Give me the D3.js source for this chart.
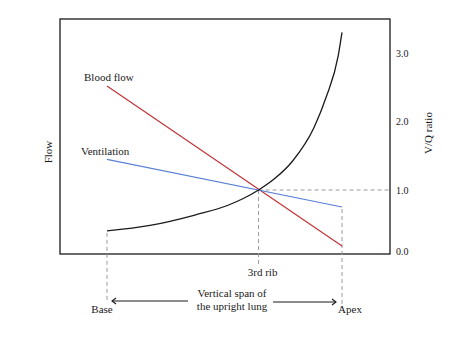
<!DOCTYPE html>
<html>
<head>
<meta charset="utf-8">
<script src="https://cdn.jsdelivr.net/npm/d3@7"></script>
<style>
  html, body { margin: 0; padding: 0; background: #fff; }
  svg text { font-family: "Liberation Serif", "DejaVu Serif", serif; fill: #1a1a1a; }
</style>
</head>
<body>
<svg id="chart" width="474" height="347"></svg>
<script>
// Position along the upright lung: 0 = base, 1 = apex
const landmarks = ["Base", "3rd rib", "Apex"];
const landmarkPos = [0, 0.645, 1];

// Flow (arbitrary units) at base and apex
const linePos = [0, 1];
const bloodFlow = [71.5, 3.4];
const ventilation = [40.3, 20.0];

// Ventilation / perfusion ratio along the lung
const vqPos = [0, 0.183, 0.374, 0.515, 0.58, 0.645, 0.715, 0.789, 0.882, 0.932, 0.984, 1.0];
const vqRatio = [0.33, 0.42, 0.59, 0.75, 0.86, 1.0, 1.17, 1.42, 1.92, 2.35, 2.96, 3.30];

const vqTicks = [0, 1, 2, 3];

const svg = d3.select("#chart");
const frame = { left: 60, right: 390, top: 19, bottom: 254 };

const x = d3.scaleLinear().domain([0, 1]).range([107, 342]);
const yFlow = d3.scaleLinear().domain([0, 100]).range([frame.bottom, frame.top]);
const yVQ = d3.scaleLinear().domain([0, 1, 3]).range([251, 190, 53]);

const dash = "4,3";
const grey = "#9a9a9a";

// Frame
svg.append("rect")
  .attr("x", frame.left).attr("y", frame.top)
  .attr("width", frame.right - frame.left).attr("height", frame.bottom - frame.top)
  .attr("fill", "none").attr("stroke", "#1a1a1a").attr("stroke-width", 1.3);

// Guide lines
const g = svg.append("g").attr("stroke", grey).attr("stroke-width", 1)
  .attr("stroke-dasharray", dash).attr("fill", "none");
g.append("line")
  .attr("x1", x(landmarkPos[0])).attr("x2", x(landmarkPos[0]))
  .attr("y1", yVQ(vqRatio[0]) + 2).attr("y2", 301);
g.append("line")
  .attr("x1", x(landmarkPos[1])).attr("x2", x(landmarkPos[1]))
  .attr("y1", yVQ(1)).attr("y2", 265);
g.append("line")
  .attr("x1", x(landmarkPos[2])).attr("x2", x(landmarkPos[2]))
  .attr("y1", yFlow(ventilation[1]) + 2).attr("y2", 308);
g.append("line")
  .attr("x1", x(landmarkPos[1])).attr("x2", frame.right)
  .attr("y1", yVQ(1)).attr("y2", yVQ(1));

// Flow lines
const flowLine = d3.line().x((d, i) => x(linePos[i])).y(d => yFlow(d));
svg.append("path").datum(bloodFlow).attr("d", flowLine)
  .attr("fill", "none").attr("stroke", "#c4343a").attr("stroke-width", 1.2);
svg.append("path").datum(ventilation).attr("d", flowLine)
  .attr("fill", "none").attr("stroke", "#5b80d6").attr("stroke-width", 1.2);

// V/Q curve
const vqLine = d3.line().x((d, i) => x(vqPos[i])).y(d => yVQ(d)).curve(d3.curveMonotoneX);
svg.append("path").datum(vqRatio).attr("d", vqLine)
  .attr("fill", "none").attr("stroke", "#1a1a1a").attr("stroke-width", 1.3);

// Right axis (V/Q ratio)
const axisR = d3.axisRight(yVQ).tickValues(vqTicks).tickFormat(d3.format(".1f")).tickSize(0).tickPadding(6);
const ga = svg.append("g").attr("transform", `translate(${frame.right},0)`).call(axisR);
ga.select(".domain").remove();
ga.selectAll("text").style("font-family", '"Liberation Serif", serif').style("font-size", "10px").attr("fill", "#1a1a1a");

svg.append("text").attr("transform", "translate(432,133) rotate(-90)")
  .attr("text-anchor", "middle").style("font-size", "11px").text("V/Q ratio");
svg.append("text").attr("transform", "translate(52,152) rotate(-90)")
  .attr("text-anchor", "middle").style("font-size", "11px").text("Flow");

// Series labels
svg.append("text").attr("x", 84).attr("y", 81).style("font-size", "11px").text("Blood flow");
svg.append("text").attr("x", 81).attr("y", 155).style("font-size", "11px").text("Ventilation");

// Landmark labels
svg.append("text").attr("x", x(landmarkPos[1]) + 4).attr("y", 276)
  .attr("text-anchor", "middle").style("font-size", "11px").text(landmarks[1]);
svg.append("text").attr("x", x(landmarkPos[0]) - 5).attr("y", 313)
  .attr("text-anchor", "middle").style("font-size", "11px").text(landmarks[0]);
svg.append("text").attr("x", x(landmarkPos[2]) + 8).attr("y", 313)
  .attr("text-anchor", "middle").style("font-size", "11px").text(landmarks[2]);

// Span label with arrows
const span = svg.append("text").attr("text-anchor", "middle").style("font-size", "11px");
span.append("tspan").attr("x", 232).attr("y", 297).text("Vertical span of");
span.append("tspan").attr("x", 232).attr("y", 310).text("the upright lung");

const arr = svg.append("g").attr("stroke", "#1a1a1a").attr("stroke-width", 1.1).attr("fill", "none");
arr.append("line").attr("x1", x(0) + 5).attr("x2", 188).attr("y1", 301).attr("y2", 301);
arr.append("path").attr("d", `M${x(0) + 9},298 L${x(0) + 5},301 L${x(0) + 9},304`);
arr.append("line").attr("x1", 273).attr("x2", x(1) - 6).attr("y1", 302).attr("y2", 302);
arr.append("path").attr("d", `M${x(1) - 10},299 L${x(1) - 6},302 L${x(1) - 10},305`);
</script>
</body>
</html>
